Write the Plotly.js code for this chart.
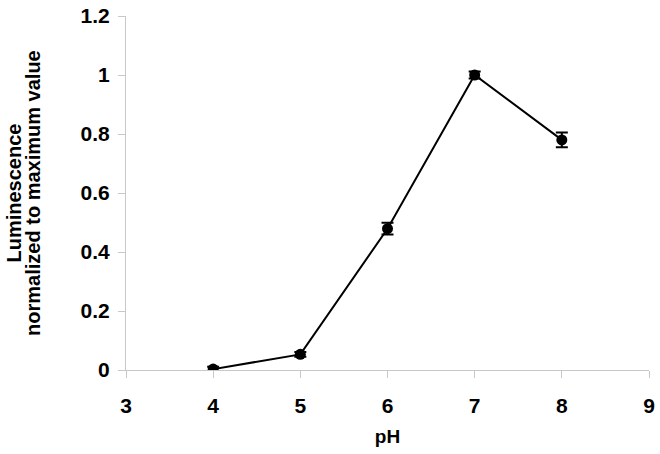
<!DOCTYPE html>
<html>
<head>
<meta charset="utf-8">
<script src="https://cdn.plot.ly/plotly-3.0.1.min.js"></script>
<style>html,body{margin:0;padding:0;background:#fff;}#chart{width:660px;height:454px;}</style>
</head>
<body>
<div id="chart"></div>
<script>
var pH = [4, 5, 6, 7, 8];
var luminescence = [0.003, 0.053, 0.479, 1.0, 0.78];
var errors = [0.008, 0.008, 0.02, 0.012, 0.025];
var xTickVals = [3, 4, 5, 6, 7, 8, 9];
var xTickLabels = ['3', '4', '5', '6', '7', '8', '9'];
var yTickVals = [0, 0.2, 0.4, 0.6, 0.8, 1.0, 1.2];
var yTickLabels = ['0', '0.2', '0.4', '0.6', '0.8', '1', '1.2'];
var yTitleLines = ['Luminescence', 'normalized to maximum value'];

var font = '"Liberation Sans", Arial, sans-serif';

var trace = {
  x: pH,
  y: luminescence,
  type: 'scatter',
  mode: 'lines+markers',
  line: {color: '#000', width: 2},
  marker: {color: '#000', size: 11},
  error_y: {type: 'data', array: errors, visible: true, color: '#000', thickness: 2, width: 6},
  showlegend: false
};

var titleX = [-0.215, -0.178];
var annotations = yTitleLines.map(function (t, i) {
  return {
    text: '<b>' + t + '</b>', xref: 'paper', yref: 'paper', x: titleX[i], y: 0.5,
    xanchor: 'center', yanchor: 'middle', textangle: -90, showarrow: false,
    font: {family: font, size: 20, color: '#000'}
  };
});

var layout = {
  width: 660, height: 454,
  margin: {l: 126, r: 11, t: 16, b: 84},
  paper_bgcolor: '#fff', plot_bgcolor: '#fff',
  font: {family: font, color: '#000'},
  annotations: annotations,
  xaxis: {
    range: [3, 9], tickvals: xTickVals, ticktext: xTickLabels,
    showgrid: false, zeroline: false, showline: true, linecolor: '#c8c8c8', linewidth: 1,
    ticks: 'outside', ticklen: 7, tickcolor: '#c8c8c8',
    ticklabelstandoff: 10,
    tickfont: {family: font, size: 21, color: '#000', weight: 'bold'},
    title: {text: '<b>pH</b>', font: {family: font, size: 19, color: '#000'}, standoff: 13}
  },
  yaxis: {
    range: [0, 1.2], tickvals: yTickVals, ticktext: yTickLabels,
    showgrid: false, zeroline: false, showline: true, linecolor: '#c8c8c8', linewidth: 1,
    ticks: 'outside', ticklen: 7, tickcolor: '#c8c8c8',
    ticklabelstandoff: 4,
    tickfont: {family: font, size: 21, color: '#000', weight: 'bold'}
  }
};

Plotly.newPlot('chart', [trace], layout, {displayModeBar: false, staticPlot: true});
</script>
</body>
</html>
